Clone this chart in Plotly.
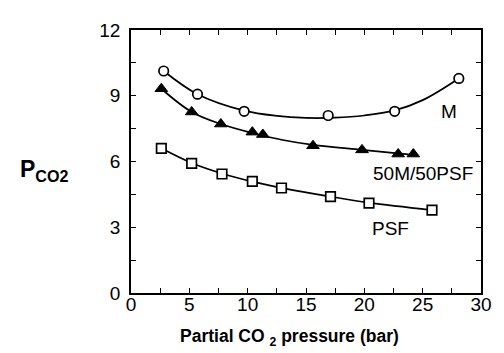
import plotly.graph_objects as go

# Measured data points
m_x = [2.8, 5.7, 9.7, 16.9, 22.6, 28.1]
m_y = [10.13, 9.07, 8.29, 8.10, 8.29, 9.79]

blend_x = [2.6, 5.2, 7.7, 10.4, 11.3, 15.6, 19.8, 22.9, 24.2]
blend_y = [9.32, 8.26, 7.71, 7.34, 7.23, 6.72, 6.53, 6.34, 6.34]

psf_x = [2.6, 5.2, 7.8, 10.4, 12.9, 17.1, 20.4, 25.8]
psf_y = [6.60, 5.91, 5.43, 5.09, 4.79, 4.40, 4.10, 3.78]

# Fitted curves
m_fit_x = [2.8, 5.7, 9.7, 12.5, 15.0, 17.5, 20.0, 22.6, 25.0, 28.1]
m_fit_y = [10.13, 9.07, 8.32, 8.08, 7.99, 8.0, 8.1, 8.33, 8.8, 9.79]

blend_fit_x = [2.6, 5.2, 7.7, 10.4, 13.0, 15.6, 19.8, 24.2]
blend_fit_y = [9.32, 8.26, 7.71, 7.30, 6.98, 6.76, 6.53, 6.30]

psf_fit_x = [2.6, 5.2, 7.8, 10.4, 12.9, 17.1, 20.4, 25.8]
psf_fit_y = [6.60, 5.93, 5.45, 5.08, 4.80, 4.40, 4.12, 3.78]

x_ticks = [0, 5, 10, 15, 20, 25, 30]
y_ticks = [0, 3, 6, 9, 12]

labels = [("M", 27.25, 8.29), ("50M/50PSF", 25.06, 5.43), ("PSF", 22.25, 2.93)]

FONT = "Liberation Sans, Arial"

fig = go.Figure()
lw = 1.7
for fx, fy in [(m_fit_x, m_fit_y), (blend_fit_x, blend_fit_y), (psf_fit_x, psf_fit_y)]:
    fig.add_trace(go.Scatter(x=fx, y=fy, mode="lines", line=dict(color="black", width=lw, shape="spline", smoothing=1.0), showlegend=False, hoverinfo="skip"))

fig.add_trace(go.Scatter(x=m_x, y=m_y, mode="markers",
                         marker=dict(symbol="circle", size=9.5, color="white", line=dict(color="black", width=1.7)), showlegend=False))
fig.add_trace(go.Scatter(x=blend_x, y=blend_y, mode="markers",
                         marker=dict(symbol="triangle-up", size=11, color="black", line=dict(color="black", width=1)), showlegend=False))
fig.add_trace(go.Scatter(x=psf_x, y=psf_y, mode="markers",
                         marker=dict(symbol="square", size=9.5, color="white", line=dict(color="black", width=1.7)), showlegend=False))

for txt, x, y in labels:
    fig.add_annotation(x=x, y=y, text=txt, showarrow=False, xanchor="center", yanchor="middle",
                       font=dict(family=FONT, size=19, color="black"))

fig.add_annotation(xref="paper", yref="paper", x=-0.249, y=0.467, text="<b>P<sub>CO2</sub></b>",
                   showarrow=False, xanchor="center", yanchor="middle",
                   font=dict(family=FONT, size=23, color="black"))

fig.add_annotation(xref="paper", yref="paper", x=0.454, y=-0.118, text="<b>Partial CO <sub>2</sub> pressure (bar)</b>",
                   showarrow=False, xanchor="center", yanchor="top",
                   font=dict(family=FONT, size=17.5, color="black"))

axis_common = dict(showgrid=False, zeroline=False, showline=True, linecolor="black", linewidth=1.6,
                   mirror="allticks", ticks="inside", ticklen=5, tickwidth=1.3, tickcolor="black",
                   tickfont=dict(family=FONT, size=19, color="black"))

fig.update_xaxes(range=[0, 30], tickvals=x_ticks, ticktext=[str(v) for v in x_ticks],
                 minor=dict(ticks="inside", dtick=2.5, tick0=0, ticklen=5, tickwidth=1.3, tickcolor="black"),
                 ticklabelstandoff=-7, **axis_common)
fig.update_yaxes(range=[0, 12], tickvals=y_ticks, ticktext=[str(v) for v in y_ticks],
                 minor=dict(ticks="inside", dtick=1.5, tick0=0, ticklen=5, tickwidth=1.3, tickcolor="black"),
                 ticklabelstandoff=5, **axis_common)

# page body has an 8px default margin, so the figure is offset by 8px
fig.update_layout(width=496, height=345, margin=dict(l=123, r=12, t=13, b=60),
                  plot_bgcolor="white", paper_bgcolor="white", showlegend=False)

fig.write_html("out.html")
